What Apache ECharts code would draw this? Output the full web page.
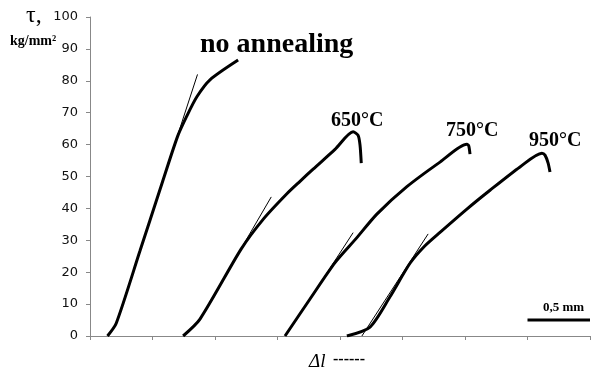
<!DOCTYPE html>
<html>
<head>
<meta charset="utf-8">
<script src="https://cdn.jsdelivr.net/npm/echarts@6/dist/echarts.min.js"></script>
<style>html,body{margin:0;padding:0;background:#fff}#c{width:600px;height:374px}</style>
</head>
<body>
<div id="c"></div>
<script>
// x in units of 0.5 mm elongation (axis ticks), y = tau, kg/mm^2
var yTicks = [0, 10, 20, 30, 40, 50, 60, 70, 80, 90, 100];
var noAnnealing = [[0.28,0],[0.42,4],[0.80,26.7],[1.12,45.9],[1.40,62.5],[1.55,69],[1.71,75],[1.92,80.3],[2.37,86.5]];
var t650 = [[1.49,0],[1.76,5.3],[2.42,27.3],[2.78,36.8],[3.15,44.6],[3.36,48.5],[3.57,52.3],[3.92,58.5],[4.21,64],[4.29,62.9],[4.32,59.9],[4.34,54.2]];
var t750 = [[3.12,0],[3.52,11.6],[3.92,23],[4.26,30.6],[4.59,38.2],[5.07,46.8],[5.60,54.5],[6.03,60.1],[6.06,59.6],[6.08,57]];
var t950 = [[4.11,0],[4.48,2.8],[4.80,12.3],[5.12,22.8],[5.36,28.3],[5.60,32.5],[6.03,39.8],[6.40,45.7],[6.88,53],[7.23,57.3],[7.28,56.7],[7.33,54.2],[7.36,51.4]];
var tangentNo = [[0.42,4],[1.72,82]];
var tangent650 = [[1.76,5.3],[2.90,43.6]];
var tangent750 = [[3.52,11.6],[4.21,32.4]];
var tangent950 = [[4.35,0],[5.41,32]];
var scaleBar = [[7,5],[8,5]];
var curveNames = ['no annealing', '650°C', '750°C', '950°C'];

var chart = echarts.init(document.getElementById('c'), null, {renderer: 'canvas'});
function thick(name, data) {
  return {name: name, type: 'line', data: data, showSymbol: false, smooth: 0.25,
    lineStyle: {color: '#000', width: 3}, z: 3, animation: false};
}
function thin(data) {
  return {type: 'line', data: data, showSymbol: false,
    lineStyle: {color: '#000', width: 1}, z: 2, animation: false};
}
chart.setOption({
  animation: false,
  grid: {left: 90, right: 10, top: 17, bottom: 38},
  xAxis: {type: 'value', min: 0, max: 8, interval: 1,
    axisLine: {show: true, lineStyle: {color: '#888', width: 1}},
    axisTick: {show: true, length: 4, lineStyle: {color: '#888'}},
    axisLabel: {show: false}, splitLine: {show: false}},
  yAxis: {type: 'value', min: yTicks[0], max: yTicks[yTicks.length-1], interval: 10,
    axisLine: {show: true, lineStyle: {color: '#888', width: 1}},
    axisTick: {show: true, length: 4, lineStyle: {color: '#888'}},
    axisLabel: {color: '#111', fontFamily: 'DejaVu Sans', fontSize: 13, margin: 12},
    splitLine: {show: false}},
  series: [
    thick(curveNames[0], noAnnealing), thick(curveNames[1], t650),
    thick(curveNames[2], t750), thick(curveNames[3], t950),
    thin(tangentNo), thin(tangent650), thin(tangent750), thin(tangent950),
    {type: 'line', data: scaleBar, showSymbol: false, lineStyle: {color: '#000', width: 3}, animation: false}
  ],
  graphic: [
    {type: 'text', left: 26, top: 4, style: {text: 'τ,', font: '24px "Liberation Serif"', fill: '#000'}},
    {type: 'text', left: 10, top: 34, style: {text: 'kg/mm²', font: 'bold 14px "Liberation Serif"', fill: '#000'}},
    {type: 'text', left: 200, top: 31, style: {text: curveNames[0], font: 'bold 28px "Liberation Serif"', fill: '#000'}},
    {type: 'text', left: 331, top: 111, style: {text: curveNames[1], font: 'bold 20px "Liberation Serif"', fill: '#000'}},
    {type: 'text', left: 446, top: 121, style: {text: curveNames[2], font: 'bold 20px "Liberation Serif"', fill: '#000'}},
    {type: 'text', left: 529, top: 131, style: {text: curveNames[3], font: 'bold 20px "Liberation Serif"', fill: '#000'}},
    {type: 'text', left: 543, top: 301, style: {text: '0,5 mm', font: 'bold 13px "Liberation Serif"', fill: '#000'}},
    {type: 'text', left: 309, top: 352, style: {text: 'Δl', font: 'italic 19px "Liberation Serif"', fill: '#000'}},
    {type: 'text', left: 333, top: 352, style: {text: '------', font: 'bold 16px "Liberation Serif"', fill: '#000'}}
  ]
});
</script>
</body>
</html>
